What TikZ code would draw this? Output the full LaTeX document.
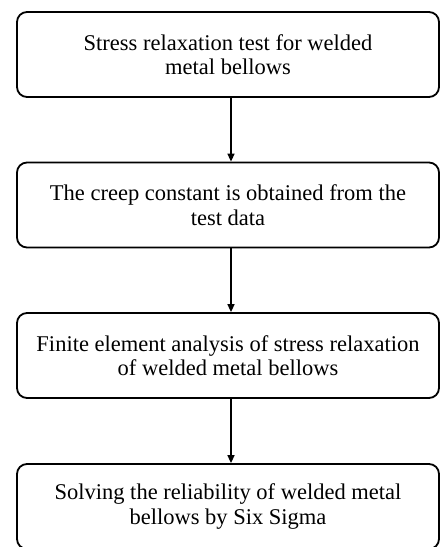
\documentclass[tikz,border=0pt]{standalone}
\usepackage{fontspec}
\setmainfont{Liberation Serif}
\usetikzlibrary{arrows.meta}
\begin{document}
\begin{tikzpicture}[x=1pt,y=-1pt,
  stepbox/.style={draw=black, line width=1.8pt, rounded corners=10pt,
    minimum width=422pt, minimum height=85pt, align=center,
    font=\fontsize{22.5}{24.5}\selectfont, inner sep=0pt},
  flow/.style={line width=1.5pt, -{Triangle[length=8pt,width=7pt]}}]
\useasboundingbox (0,0) rectangle (440,547);
\node[stepbox] (a) at (228,54.5) {Stress relaxation test for welded\\metal bellows};
\node[stepbox] (b) at (228,205) {The creep constant is obtained from the\\test data};
\node[stepbox] (c) at (228,355.5) {Finite element analysis of stress relaxation\\of welded metal bellows};
\node[stepbox] (d) at (228,506.5) {Solving the reliability of welded metal\\bellows by Six Sigma};
\draw[flow] ([xshift=3pt]a.south) -- ([xshift=3pt]b.north);
\draw[flow] ([xshift=3pt]b.south) -- ([xshift=3pt]c.north);
\draw[flow] ([xshift=3pt]c.south) -- ([xshift=3pt]d.north);
\end{tikzpicture}
\end{document}
